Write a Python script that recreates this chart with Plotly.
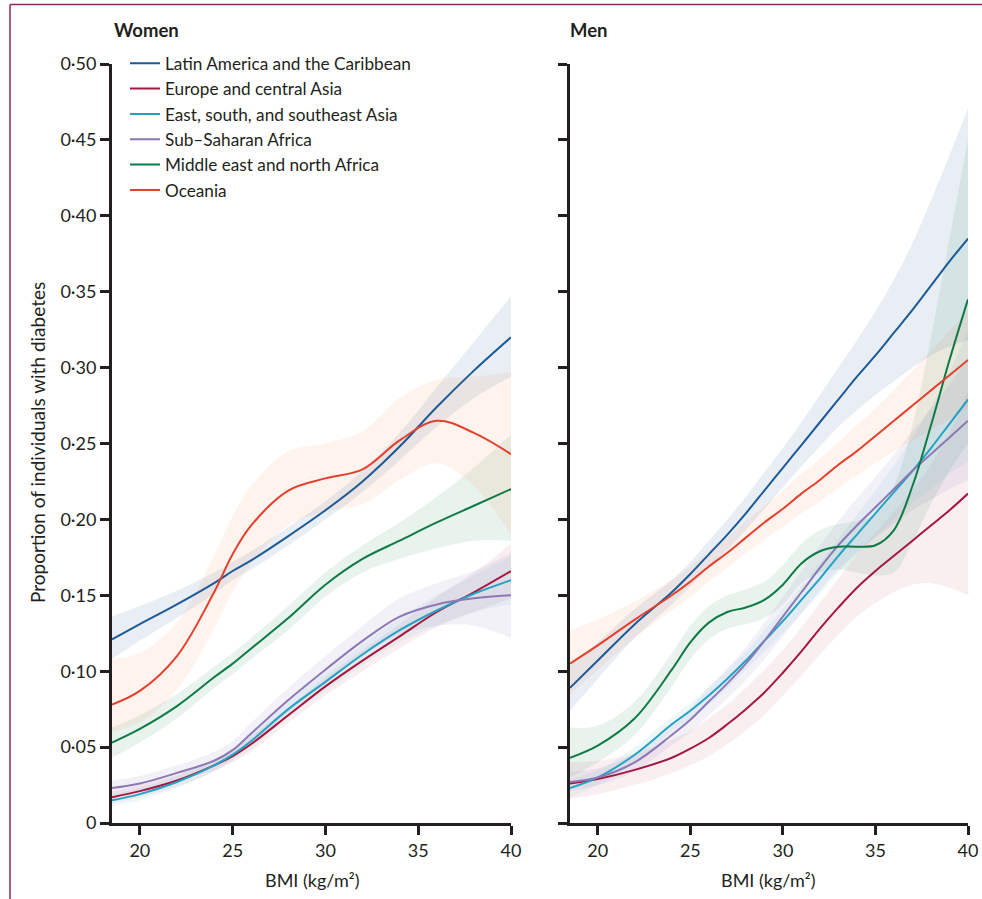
import plotly.graph_objects as go

# ---------------- data ----------------
REGIONS = ["Latin America and the Caribbean", "Europe and central Asia",
           "East, south, and southeast Asia", "Sub\u2013Saharan Africa",
           "Middle east and north Africa", "Oceania"]
COLORS = ["#1d5a98", "#a5173f", "#22a3c4", "#8d78b6", "#0e7a45", "#e5402e"]
BANDS = ["rgba(29,90,152,0.10)", "rgba(165,23,63,0.07)", "rgba(34,163,196,0.08)",
         "rgba(141,120,182,0.10)", "rgba(14,122,69,0.09)", "rgba(240,120,60,0.09)"]

X_TICKS = [20, 25, 30, 35, 40]
Y_TICKS = [0, 0.05, 0.10, 0.15, 0.20, 0.25, 0.30, 0.35, 0.40, 0.45, 0.50]
Y_TICK_LABELS = ["0", "0\u00b705", "0\u00b710", "0\u00b715", "0\u00b720", "0\u00b725",
                 "0\u00b730", "0\u00b735", "0\u00b740", "0\u00b745", "0\u00b750"]

# Women
W_BMI = [18.5, 20, 22, 24, 25, 26, 28, 30, 32, 34, 36, 38, 40]
w_latam = [0.121, 0.131, 0.144, 0.158, 0.166, 0.173, 0.189, 0.206, 0.225, 0.248, 0.274, 0.298, 0.320]
w_latam_hi = [0.136, 0.143, 0.153, 0.165, 0.172, 0.179, 0.195, 0.212, 0.232, 0.257, 0.287, 0.317, 0.347]
w_latam_lo = [0.108, 0.120, 0.135, 0.151, 0.160, 0.167, 0.183, 0.200, 0.218, 0.239, 0.261, 0.280, 0.294]
w_europe = [0.017, 0.021, 0.028, 0.038, 0.044, 0.052, 0.071, 0.090, 0.107, 0.123, 0.139, 0.152, 0.166]
w_europe_hi = [0.021, 0.025, 0.032, 0.042, 0.048, 0.057, 0.076, 0.096, 0.114, 0.131, 0.149, 0.165, 0.184]
w_europe_lo = [0.013, 0.017, 0.024, 0.034, 0.040, 0.047, 0.066, 0.084, 0.100, 0.115, 0.129, 0.139, 0.148]
w_easia = [0.015, 0.019, 0.027, 0.038, 0.045, 0.054, 0.075, 0.093, 0.111, 0.127, 0.140, 0.151, 0.160]
w_easia_hi = [0.019, 0.023, 0.031, 0.042, 0.049, 0.059, 0.080, 0.099, 0.118, 0.135, 0.150, 0.163, 0.176]
w_easia_lo = [0.011, 0.015, 0.023, 0.034, 0.041, 0.049, 0.070, 0.087, 0.104, 0.119, 0.130, 0.139, 0.144]
w_ssa = [0.023, 0.026, 0.033, 0.041, 0.048, 0.059, 0.081, 0.101, 0.120, 0.136, 0.144, 0.148, 0.150]
w_ssa_hi = [0.028, 0.031, 0.038, 0.047, 0.054, 0.066, 0.089, 0.110, 0.130, 0.148, 0.158, 0.166, 0.178]
w_ssa_lo = [0.018, 0.021, 0.028, 0.035, 0.042, 0.052, 0.073, 0.092, 0.110, 0.124, 0.130, 0.130, 0.122]
w_mena = [0.053, 0.062, 0.077, 0.096, 0.105, 0.115, 0.135, 0.157, 0.174, 0.186, 0.198, 0.209, 0.220]
w_mena_hi = [0.063, 0.071, 0.085, 0.103, 0.112, 0.122, 0.143, 0.165, 0.183, 0.198, 0.215, 0.234, 0.256]
w_mena_lo = [0.043, 0.053, 0.069, 0.089, 0.098, 0.108, 0.127, 0.149, 0.165, 0.174, 0.181, 0.186, 0.186]
w_oceania = [0.078, 0.087, 0.110, 0.152, 0.177, 0.196, 0.219, 0.227, 0.233, 0.252, 0.265, 0.257, 0.243]
w_oceania_hi = [0.108, 0.112, 0.132, 0.176, 0.202, 0.222, 0.245, 0.250, 0.258, 0.280, 0.292, 0.294, 0.297]
w_oceania_lo = [0.060, 0.066, 0.088, 0.128, 0.152, 0.171, 0.196, 0.205, 0.210, 0.226, 0.237, 0.222, 0.190]

# Men
M_BMI = [18.5, 20, 22, 24, 25, 26, 27, 28, 29, 30, 31, 32, 33, 34, 35, 36, 37, 38, 39, 40]
m_latam = [0.089, 0.107, 0.131, 0.152, 0.164, 0.177, 0.190, 0.204, 0.219, 0.234, 0.249, 0.264, 0.279, 0.294, 0.308, 0.323, 0.338, 0.354, 0.370, 0.385]
m_latam_hi = [0.104, 0.119, 0.141, 0.160, 0.172, 0.186, 0.200, 0.215, 0.231, 0.247, 0.264, 0.282, 0.300, 0.318, 0.337, 0.358, 0.382, 0.410, 0.440, 0.471]
m_latam_lo = [0.074, 0.095, 0.122, 0.144, 0.156, 0.168, 0.180, 0.193, 0.207, 0.221, 0.235, 0.248, 0.261, 0.272, 0.282, 0.291, 0.300, 0.308, 0.314, 0.318]
m_europe = [0.026, 0.029, 0.035, 0.043, 0.049, 0.056, 0.065, 0.075, 0.086, 0.099, 0.113, 0.128, 0.142, 0.155, 0.166, 0.176, 0.186, 0.196, 0.206, 0.217]
m_europe_hi = [0.040, 0.041, 0.046, 0.055, 0.061, 0.069, 0.078, 0.089, 0.101, 0.114, 0.129, 0.145, 0.161, 0.177, 0.191, 0.205, 0.219, 0.236, 0.257, 0.285]
m_europe_lo = [0.016, 0.019, 0.025, 0.033, 0.038, 0.044, 0.052, 0.061, 0.071, 0.084, 0.097, 0.111, 0.124, 0.136, 0.145, 0.152, 0.157, 0.158, 0.155, 0.150]
m_easia = [0.023, 0.030, 0.045, 0.065, 0.074, 0.084, 0.095, 0.107, 0.120, 0.133, 0.147, 0.161, 0.176, 0.190, 0.204, 0.218, 0.232, 0.247, 0.263, 0.279]
m_easia_hi = [0.029, 0.035, 0.050, 0.070, 0.079, 0.090, 0.101, 0.113, 0.127, 0.141, 0.156, 0.171, 0.187, 0.203, 0.219, 0.236, 0.254, 0.274, 0.297, 0.325]
m_easia_lo = [0.017, 0.025, 0.040, 0.060, 0.069, 0.078, 0.089, 0.101, 0.113, 0.125, 0.138, 0.151, 0.165, 0.177, 0.189, 0.200, 0.211, 0.220, 0.230, 0.238]
m_ssa = [0.027, 0.030, 0.040, 0.058, 0.068, 0.080, 0.092, 0.105, 0.120, 0.136, 0.152, 0.168, 0.183, 0.196, 0.208, 0.220, 0.232, 0.243, 0.254, 0.265]
m_ssa_hi = [0.034, 0.036, 0.046, 0.065, 0.076, 0.089, 0.102, 0.116, 0.132, 0.149, 0.166, 0.183, 0.199, 0.214, 0.228, 0.243, 0.258, 0.273, 0.289, 0.307]
m_ssa_lo = [0.021, 0.025, 0.034, 0.051, 0.060, 0.071, 0.082, 0.094, 0.108, 0.123, 0.138, 0.153, 0.167, 0.178, 0.188, 0.197, 0.206, 0.213, 0.220, 0.226]
m_mena = [0.043, 0.051, 0.069, 0.101, 0.119, 0.132, 0.139, 0.142, 0.147, 0.157, 0.171, 0.179, 0.182, 0.182, 0.183, 0.193, 0.222, 0.262, 0.305, 0.345]
m_mena_hi = [0.063, 0.064, 0.080, 0.112, 0.130, 0.143, 0.150, 0.154, 0.159, 0.170, 0.184, 0.193, 0.197, 0.199, 0.203, 0.222, 0.262, 0.320, 0.385, 0.450]
m_mena_lo = [0.030, 0.040, 0.058, 0.090, 0.108, 0.121, 0.128, 0.131, 0.135, 0.144, 0.158, 0.165, 0.167, 0.165, 0.163, 0.165, 0.185, 0.210, 0.232, 0.250]
m_oceania = [0.105, 0.117, 0.134, 0.150, 0.159, 0.169, 0.178, 0.188, 0.198, 0.207, 0.217, 0.226, 0.236, 0.245, 0.255, 0.265, 0.275, 0.285, 0.295, 0.305]
m_oceania_hi = [0.127, 0.134, 0.146, 0.160, 0.169, 0.179, 0.188, 0.199, 0.209, 0.219, 0.230, 0.240, 0.251, 0.262, 0.273, 0.285, 0.298, 0.311, 0.324, 0.338]
m_oceania_lo = [0.085, 0.101, 0.122, 0.140, 0.149, 0.159, 0.168, 0.178, 0.187, 0.195, 0.204, 0.212, 0.221, 0.229, 0.237, 0.245, 0.252, 0.259, 0.266, 0.273]

WOMEN = [(w_latam, w_latam_lo, w_latam_hi), (w_europe, w_europe_lo, w_europe_hi),
         (w_easia, w_easia_lo, w_easia_hi), (w_ssa, w_ssa_lo, w_ssa_hi),
         (w_mena, w_mena_lo, w_mena_hi), (w_oceania, w_oceania_lo, w_oceania_hi)]
MEN = [(m_latam, m_latam_lo, m_latam_hi), (m_europe, m_europe_lo, m_europe_hi),
       (m_easia, m_easia_lo, m_easia_hi), (m_ssa, m_ssa_lo, m_ssa_hi),
       (m_mena, m_mena_lo, m_mena_hi), (m_oceania, m_oceania_lo, m_oceania_hi)]

# ---------------- figure ----------------
W, H = 982, 899
INK = "#231f20"
fig = go.Figure()

def add_panel(xs, series, xa, ya, legend):
    for i, (mid, lo, hi) in enumerate(series):
        fig.add_trace(go.Scatter(x=xs, y=lo, mode="lines", line=dict(width=0, shape="spline"),
                                 xaxis=xa, yaxis=ya, showlegend=False, hoverinfo="skip"))
        fig.add_trace(go.Scatter(x=xs, y=hi, mode="lines", line=dict(width=0, shape="spline"),
                                 fill="tonexty", fillcolor=BANDS[i],
                                 xaxis=xa, yaxis=ya, showlegend=False, hoverinfo="skip"))
    for i, (mid, lo, hi) in enumerate(series):
        fig.add_trace(go.Scatter(x=xs, y=mid, mode="lines", name=REGIONS[i],
                                 line=dict(color=COLORS[i], width=2, shape="spline"),
                                 xaxis=xa, yaxis=ya, showlegend=legend))

add_panel(W_BMI, WOMEN, "x", "y", True)
add_panel(M_BMI, MEN, "x2", "y2", False)

def px_x(p):
    return p / W

def px_y(p):
    return 1 - p / H

ydom = [px_y(823), px_y(64)]
axis_common = dict(showgrid=False, zeroline=False, showline=True, linewidth=3, linecolor=INK,
                   ticks="outside", ticklen=9, tickwidth=3, tickcolor=INK, automargin=False)
xfont = dict(family="Lato, sans-serif", size=18, color=INK)
yfont = dict(family="Lato, sans-serif", size=18, color=INK)

fig.update_layout(
    template="none",
    width=W, height=H, margin=dict(l=0, r=0, t=0, b=0, pad=0, autoexpand=False),
    paper_bgcolor="white", plot_bgcolor="white",
    xaxis=dict(domain=[px_x(112), px_x(511)], range=[18.5, 40], tickvals=X_TICKS,
               tickfont=xfont, anchor="y", **axis_common),
    yaxis=dict(domain=ydom, range=[0, 0.5], tickvals=Y_TICKS, ticktext=Y_TICK_LABELS,
               tickfont=yfont, anchor="x", **axis_common),
    xaxis2=dict(domain=[px_x(570), px_x(968)], range=[18.5, 40], tickvals=X_TICKS,
                tickfont=xfont, anchor="y2", **axis_common),
    yaxis2=dict(domain=ydom, range=[0, 0.5], tickvals=Y_TICKS, showticklabels=False,
                anchor="x2", **axis_common),
    legend=dict(x=px_x(125), y=px_y(45.5), xanchor="left", yanchor="top", traceorder="normal",
                bgcolor="rgba(0,0,0,0)", borderwidth=0,
                font=dict(family="Lato, sans-serif", size=17.2, color=INK),
                itemwidth=30, tracegroupgap=0),
    showlegend=True,
)

ann = [
    dict(text="<b>Women</b>", x=px_x(112), y=px_y(30), xanchor="left", yanchor="middle",
         font=dict(family="Lato, sans-serif", size=18.5, color=INK)),
    dict(text="<b>Men</b>", x=px_x(568), y=px_y(30), xanchor="left", yanchor="middle",
         font=dict(family="Lato, sans-serif", size=18.5, color=INK)),
    dict(text="Proportion of individuals with diabetes", x=px_x(38), y=px_y(443),
         xanchor="center", yanchor="middle", textangle=-90,
         font=dict(family="Lato, sans-serif", size=19, color=INK)),
    dict(text="BMI (kg/m\u00b2)", x=px_x(312), y=px_y(880), xanchor="center", yanchor="middle",
         font=xfont),
    dict(text="BMI (kg/m\u00b2)", x=px_x(768), y=px_y(880), xanchor="center", yanchor="middle",
         font=xfont),
]
for a in ann:
    a.update(xref="paper", yref="paper", showarrow=False)
fig.update_layout(annotations=ann)

BORDER = "#93285a"
fig.update_layout(shapes=[
    dict(type="line", xref="paper", yref="paper", x0=px_x(10), x1=px_x(10), y0=0, y1=px_y(4.5),
         line=dict(color=BORDER, width=1.5)),
    dict(type="line", xref="paper", yref="paper", x0=px_x(10), x1=1, y0=px_y(4.5), y1=px_y(4.5),
         line=dict(color=BORDER, width=1.5)),
])

fig.write_html("out.html")
